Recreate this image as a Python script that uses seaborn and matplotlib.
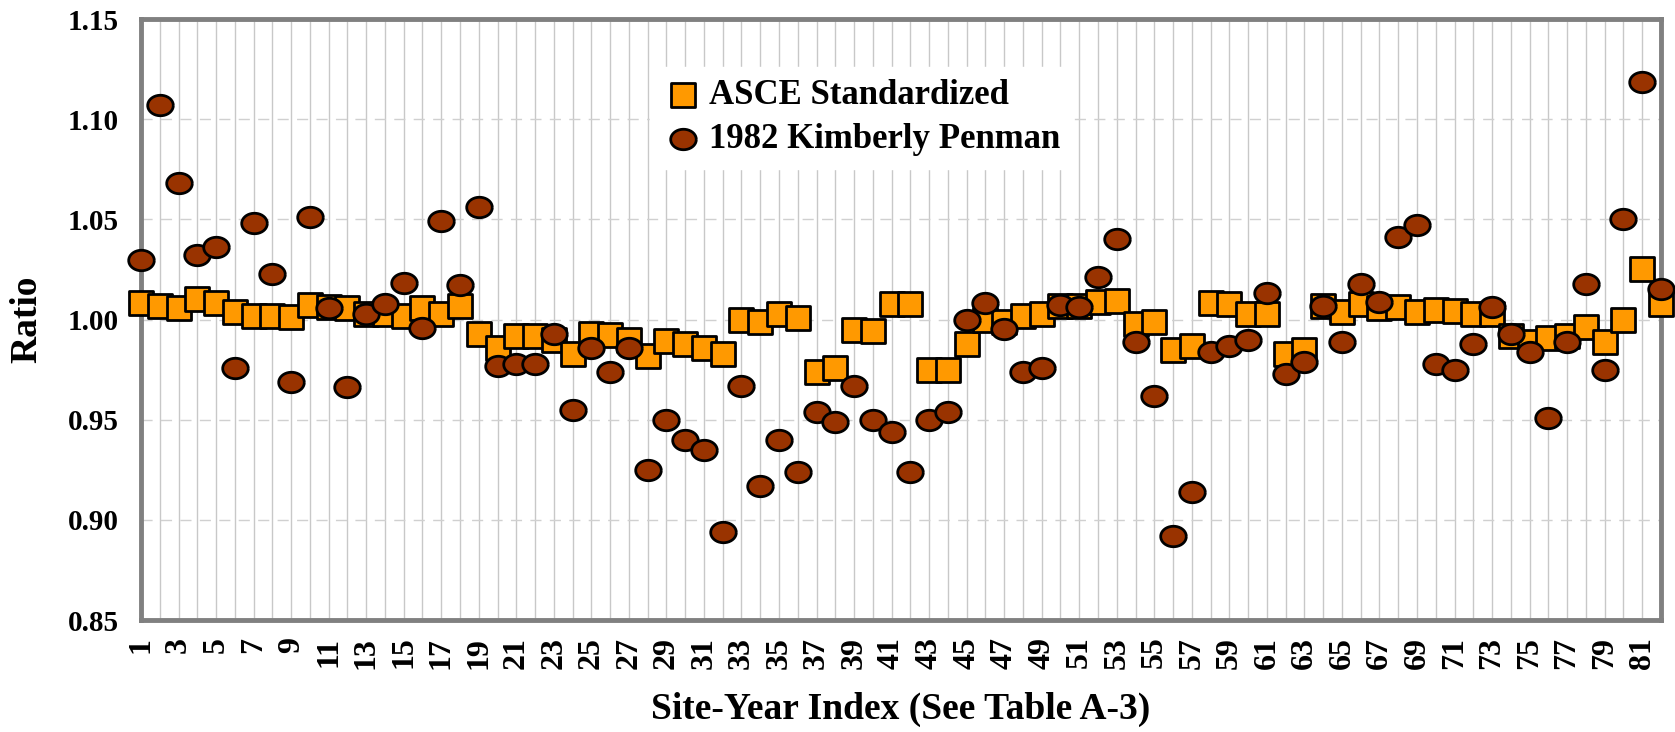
import numpy as np
import pandas as pd
import seaborn as sns
import matplotlib
matplotlib.use('Agg')
import matplotlib.pyplot as plt

# 数据：每个站点-年份的比值
site_index = list(range(1, 83))
asce = [1.008, 1.0067, 1.0057, 1.010, 1.008, 1.004, 1.002, 1.0016, 1.0014, 1.007,
        1.006, 1.0057, 1.003, 1.0026, 1.0016, 1.0057, 1.003, 1.0067, 0.993, 0.986,
        0.992, 0.992, 0.990, 0.983, 0.993, 0.9925, 0.990, 0.982, 0.9895, 0.988,
        0.986, 0.983, 1.000, 0.999, 1.003, 1.001, 0.974, 0.976, 0.995, 0.9945,
        1.0077, 1.0077, 0.975, 0.975, 0.988, 1.000, 0.9986, 1.002, 1.0026, 1.0067,
        1.0067, 1.0087, 1.009, 0.9976, 0.9986, 0.985, 0.987, 1.008, 1.0077, 1.003,
        1.003, 0.983, 0.985, 1.0067, 1.0037, 1.0075, 1.0057, 1.006, 1.004, 1.0047,
        1.0043, 1.0026, 1.0026, 0.992, 0.989, 0.991, 0.992, 0.9965, 0.989, 1.000,
        1.025, 1.0077]
kimberly = [1.0295, 1.107, 1.068, 1.032, 1.036, 0.976, 1.048, 1.0225, 0.969, 1.051,
            1.0057, 0.9665, 1.0026, 1.0077, 1.018, 0.996, 1.049, 1.017, 1.056, 0.977,
            0.978, 0.978, 0.993, 0.955, 0.986, 0.974, 0.986, 0.925, 0.950, 0.940,
            0.935, 0.894, 0.967, 0.917, 0.940, 0.924, 0.954, 0.949, 0.967, 0.950,
            0.944, 0.924, 0.950, 0.954, 1.000, 1.008, 0.9955, 0.9736, 0.976, 1.007,
            1.006, 1.021, 1.040, 0.989, 0.9616, 0.892, 0.914, 0.984, 0.987, 0.990,
            1.013, 0.9726, 0.979, 1.0067, 0.989, 1.0175, 1.0087, 1.041, 1.047, 0.978,
            0.975, 0.988, 1.006, 0.993, 0.984, 0.951, 0.989, 1.0175, 0.975, 1.050,
            1.1186, 1.015]
y_ticks = [0.85, 0.90, 0.95, 1.00, 1.05, 1.10, 1.15]

data = pd.DataFrame({'idx': site_index, 'asce': asce, 'kp': kimberly})

sns.set_style('white')
plt.rcParams['font.family'] = ['Liberation Serif', 'DejaVu Serif']
plt.rcParams['font.weight'] = 'bold'
plt.rcParams['text.color'] = 'black'
plt.rcParams['axes.labelcolor'] = 'black'
plt.rcParams['xtick.color'] = 'black'
plt.rcParams['ytick.color'] = 'black'

# 稍扁的椭圆点
t = np.linspace(0, 2 * np.pi, 40)
ellipse = list(zip(np.cos(t), 0.8 * np.sin(t)))

fig = plt.figure(figsize=(16.75, 7.32), dpi=100)
ax = fig.add_subplot(111)
fig.subplots_adjust(left=0.0842, right=0.9916, top=0.974, bottom=0.153)

# 先画方块，再画圆点
sns.scatterplot(x='idx', y='asce', data=data, ax=ax, marker='s', s=290,
                color='#FF9900', edgecolor='black', linewidth=2,
                label='ASCE Standardized', clip_on=False, zorder=3)
sns.scatterplot(x='idx', y='kp', data=data, ax=ax, marker=ellipse, s=340,
                color='#993300', edgecolor='black', linewidth=2,
                label='1982 Kimberly Penman', clip_on=False, zorder=4)

ax.set_xlim(1, 82)
ax.set_ylim(0.85, 1.15)
ax.set_xticks(site_index)
ax.set_xticklabels([str(i) if i % 2 == 1 else '' for i in site_index],
                   rotation=90, fontsize=23, fontweight='bold')
ax.set_yticks(y_ticks)
ax.set_yticklabels(['%.2f' % v for v in y_ticks], fontsize=21, fontweight='bold')
ax.tick_params(axis='x', direction='inout', length=12, width=1, pad=6)
ax.tick_params(axis='y', direction='out', length=8, width=1, pad=8)

# 网格：竖线实线，横线虚线
ax.grid(False)
for i in site_index:
    ax.axvline(i, color='#C8C8C8', linewidth=1, zorder=0)
for v in y_ticks[1:-1]:
    ax.axhline(v, color='#D0D0D0', linewidth=1, linestyle=(0, (8, 6)), zorder=0)

for sp in ax.spines.values():
    sp.set_color('#808080')
    sp.set_linewidth(3.5)

ax.set_xlabel('Site-Year Index (See Table A-3)', fontsize=27, fontweight='bold', labelpad=17)
ax.set_ylabel('Ratio', fontsize=27, fontweight='bold', labelpad=17)

leg = ax.legend(loc='upper left', bbox_to_anchor=(0.335, 0.92), borderaxespad=0,
                frameon=True, fancybox=False, framealpha=1, edgecolor='white',
                prop={'size': 25, 'weight': 'bold'}, handletextpad=0.15,
                borderpad=0.35, labelspacing=0.32, handlelength=1.2)
leg.set_zorder(5)

plt.savefig('out.png', dpi=100)
